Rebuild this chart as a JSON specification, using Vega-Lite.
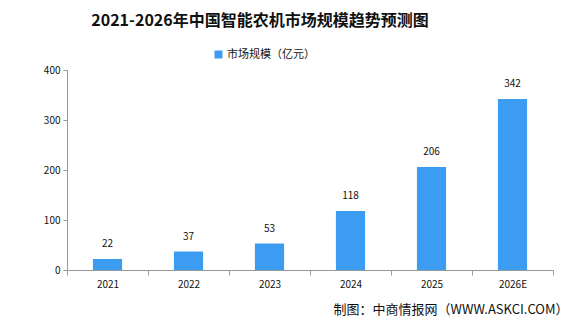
{
  "$schema": "https://vega.github.io/schema/vega-lite/v6.json",
  "width": 486,
  "height": 200,
  "autosize": {"type": "none"},
  "padding": {"left": 67, "top": 70, "right": 23, "bottom": 57},
  "background": "white",
  "title": {
    "text": "2021-2026年中国智能农机市场规模趋势预测图",
    "font": "Noto Sans CJK SC",
    "fontSize": 16,
    "fontWeight": "bold",
    "color": "#111111",
    "anchor": "middle",
    "dx": -50,
    "offset": 20
  },
  "config": {
    "view": {"stroke": null},
    "font": "Noto Sans CJK SC"
  },
  "data": {
    "values": [
      {"year": "2021", "value": 22, "series": "市场规模（亿元）"},
      {"year": "2022", "value": 37, "series": "市场规模（亿元）"},
      {"year": "2023", "value": 53, "series": "市场规模（亿元）"},
      {"year": "2024", "value": 118, "series": "市场规模（亿元）"},
      {"year": "2025", "value": 206, "series": "市场规模（亿元）"},
      {"year": "2026E", "value": 342, "series": "市场规模（亿元）"}
    ]
  },
  "encoding": {
    "x": {
      "field": "year",
      "type": "nominal",
      "sort": null,
      "scale": {"paddingInner": 0, "paddingOuter": 0},
      "axis": {
        "title": "制图：中商情报网（WWW.ASKCI.COM）",
        "titleFont": "Noto Sans CJK SC",
        "titleFontSize": 13,
        "titleFontWeight": "normal",
        "titleColor": "#111111",
        "titleAnchor": "end",
        "titleAlign": "right",
        "titleBaseline": "alphabetic",
        "titleX": 501,
        "titleY": 43,
        "labelAngle": 0,
        "labelFontSize": 10,
        "labelColor": "#111111",
        "labelPadding": 4,
        "tickBand": "extent",
        "tickColor": "#999999",
        "tickSize": 5,
        "domainColor": "#999999"
      }
    },
    "y": {
      "field": "value",
      "type": "quantitative",
      "scale": {"domain": [0, 400]},
      "axis": {
        "title": null,
        "values": [0, 100, 200, 300, 400],
        "grid": false,
        "labelFontSize": 10,
        "labelColor": "#111111",
        "labelPadding": 3,
        "tickColor": "#999999",
        "tickSize": 4,
        "domainColor": "#999999"
      }
    }
  },
  "layer": [
    {
      "mark": {"type": "bar", "width": {"band": 0.36}},
      "encoding": {
        "color": {
          "field": "series",
          "type": "nominal",
          "scale": {"range": ["#3C9CF2"]},
          "legend": {
            "title": null,
            "orient": "none",
            "legendX": 146,
            "legendY": -21,
            "symbolType": "square",
            "symbolSize": 64,
            "symbolStrokeWidth": 0,
            "labelFontSize": 11,
            "labelColor": "#111111",
            "labelOffset": 3
          }
        }
      }
    },
    {
      "mark": {"type": "text", "dy": -10, "fontSize": 10, "color": "#111111", "baseline": "bottom"},
      "encoding": {"text": {"field": "value", "type": "quantitative"}}
    }
  ]
}
